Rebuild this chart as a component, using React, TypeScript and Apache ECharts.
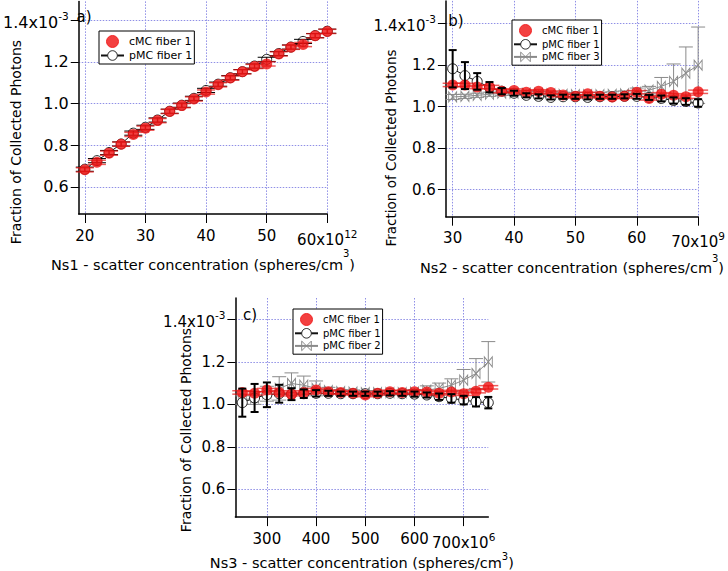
import React, { useEffect, useRef } from 'react';
import * as echarts from 'echarts';

const FONT = '"DejaVu Sans", Verdana, sans-serif';
const RED = '#f01010';
const RED_ERR = 'rgba(230,20,20,0.7)';
const GRAY = '#8a8a8a';
const BLACK = '#000';

// ---- Panel a ----
const aX = [20, 22, 24, 26, 28, 30, 32, 34, 36, 38, 40, 42, 44, 46, 48, 50, 52, 54, 56, 58, 60];
const aCmc = [0.682, 0.718, 0.762, 0.805, 0.852, 0.882, 0.918, 0.962, 0.99, 1.022, 1.055, 1.09, 1.122, 1.152, 1.178, 1.19, 1.238, 1.27, 1.283, 1.325, 1.346];
const aCmcErr = [0.01, 0.01, 0.01, 0.01, 0.01, 0.01, 0.01, 0.01, 0.01, 0.01, 0.01, 0.01, 0.01, 0.01, 0.01, 0.01, 0.01, 0.01, 0.01, 0.01, 0.01];
const aPmc1 = [0.685, 0.726, 0.765, 0.806, 0.858, 0.886, 0.921, 0.963, 0.992, 1.025, 1.063, 1.093, 1.124, 1.153, 1.18, 1.212, 1.24, 1.271, 1.298, 1.326, 1.347];
const aPmc1Err = [0.01, 0.01, 0.01, 0.01, 0.01, 0.01, 0.01, 0.01, 0.01, 0.01, 0.01, 0.01, 0.01, 0.01, 0.01, 0.01, 0.01, 0.01, 0.01, 0.01, 0.01];

// ---- Panel b ----
const bX = [30, 32, 34, 36, 38, 40, 42, 44, 46, 48, 50, 52, 54, 56, 58, 60, 62, 64, 66, 68, 70];
const bCmc = [1.105, 1.105, 1.095, 1.095, 1.075, 1.078, 1.07, 1.074, 1.068, 1.056, 1.05, 1.062, 1.05, 1.047, 1.05, 1.07, 1.04, 1.06, 1.055, 1.048, 1.072];
const bCmcErr = [0.008, 0.008, 0.008, 0.008, 0.008, 0.008, 0.008, 0.008, 0.008, 0.008, 0.008, 0.008, 0.008, 0.008, 0.008, 0.008, 0.008, 0.008, 0.008, 0.008, 0.008];
const bPmc1 = [1.183, 1.15, 1.122, 1.094, 1.075, 1.065, 1.055, 1.05, 1.045, 1.048, 1.048, 1.045, 1.048, 1.048, 1.05, 1.05, 1.045, 1.04, 1.03, 1.025, 1.018];
const bPmc1Err = [0.09, 0.065, 0.04, 0.025, 0.015, 0.012, 0.01, 0.01, 0.01, 0.01, 0.01, 0.01, 0.01, 0.01, 0.01, 0.012, 0.012, 0.014, 0.015, 0.016, 0.018];
const bPmc3 = [1.047, 1.05, 1.055, 1.06, 1.065, 1.066, 1.065, 1.064, 1.062, 1.06, 1.058, 1.058, 1.058, 1.06, 1.062, 1.07, 1.08, 1.098, 1.122, 1.162, 1.2];
const bPmc3Err = [0.012, 0.01, 0.01, 0.01, 0.01, 0.01, 0.01, 0.01, 0.01, 0.01, 0.01, 0.01, 0.01, 0.012, 0.014, 0.02, 0.018, 0.043, 0.084, 0.126, 0.184];

// ---- Panel c ----
const cX = [250, 275, 300, 325, 350, 375, 400, 425, 450, 475, 500, 525, 550, 575, 600, 625, 650, 675, 700, 725, 750];
const cCmc = [1.056, 1.052, 1.067, 1.056, 1.048, 1.056, 1.067, 1.059, 1.056, 1.052, 1.044, 1.052, 1.059, 1.056, 1.059, 1.058, 1.052, 1.058, 1.05, 1.062, 1.08];
const cCmcErr = [0.008, 0.008, 0.008, 0.008, 0.008, 0.008, 0.008, 0.008, 0.008, 0.008, 0.008, 0.008, 0.008, 0.008, 0.008, 0.008, 0.008, 0.008, 0.008, 0.008, 0.008];
const cPmc1 = [1.008, 1.03, 1.045, 1.05, 1.048, 1.05, 1.052, 1.052, 1.05, 1.05, 1.05, 1.05, 1.052, 1.05, 1.048, 1.044, 1.036, 1.028, 1.02, 1.012, 1.008];
const cPmc1Err = [0.066, 0.066, 0.058, 0.042, 0.028, 0.02, 0.015, 0.012, 0.01, 0.01, 0.01, 0.01, 0.01, 0.01, 0.012, 0.012, 0.015, 0.02, 0.02, 0.022, 0.027];
const cPmc2 = [1.02, 1.03, 1.05, 1.075, 1.098, 1.09, 1.075, 1.065, 1.06, 1.058, 1.055, 1.055, 1.055, 1.055, 1.058, 1.067, 1.075, 1.09, 1.114, 1.145, 1.2];
const cPmc2Err = [0.02, 0.03, 0.035, 0.055, 0.05, 0.043, 0.035, 0.015, 0.01, 0.01, 0.01, 0.01, 0.01, 0.01, 0.012, 0.02, 0.025, 0.03, 0.05, 0.07, 0.095];

// ---- Ticks & texts ----
const yTicks = [0.6, 0.8, 1.0, 1.2, 1.4];
const yExp = '-3';
const aXTicks = [20, 30, 40, 50, 60];
const aXExp = '12';
const bXTicks = [30, 40, 50, 60, 70];
const bXExp = '9';
const cXTicks = [300, 400, 500, 600, 700];
const cXExp = '6';
const yTitle = 'Fraction of Collected Photons';
const aXTitle = 'Ns1 - scatter concentration (spheres/cm';
const bXTitle = 'Ns2 - scatter concentration (spheres/cm';
const cXTitle = 'Ns3 - scatter concentration (spheres/cm';
const panelLabels = ['a)', 'b)', 'c)'];
const NAME_CMC = 'cMC fiber 1';
const NAME_PMC1 = 'pMC fiber 1';
const NAME_PMC3 = 'pMC fiber 3';
const NAME_PMC2 = 'pMC fiber 2';

const BOWTIE = 'path://M0,0L4,5L0,10ZM8,0L4,5L8,10Z';
const X_TICK_FONT = 15;

const GRID_LINE = { show: true, lineStyle: { color: '#8f8fe6', type: [1.5, 1.5], width: 1 } };

function xAxis(idx: number, min: number, max: number, ticks: number[], exp: string, title: string, nameGap: number, supPad: number) {
  const last = ticks[ticks.length - 1];
  return {
    type: 'value', gridIndex: idx, min, max,
    axisLine: { show: true, onZero: false, lineStyle: { color: BLACK, width: 1.5 } },
    axisTick: { show: true, length: 9, customValues: ticks, lineStyle: { color: BLACK, width: 1 } },
    axisLabel: {
      show: true, customValues: ticks, margin: 14, fontSize: X_TICK_FONT, fontFamily: FONT, color: BLACK,
      formatter: (v: number) => (Math.abs(v - last) < 1e-9 ? `{m|${last}x10}{s|${exp}}` : String(v)),
      rich: {
        m: { fontSize: X_TICK_FONT, fontFamily: FONT, color: BLACK, verticalAlign: 'bottom' },
        s: { fontSize: 10.5, fontFamily: FONT, color: BLACK, verticalAlign: 'bottom', padding: [0, 0, 8, 0] },
      },
    },
    splitLine: GRID_LINE,
    name: `{m|${title}}{s|3}{m|)}`,
    nameLocation: 'middle', nameGap,
    nameTextStyle: {
      rich: {
        m: { fontSize: 14.5, fontFamily: FONT, color: BLACK, verticalAlign: 'bottom' },
        s: { fontSize: 10, fontFamily: FONT, color: BLACK, verticalAlign: 'bottom', padding: [0, 0, supPad, 0] },
      },
    },
  };
}

function yAxis(idx: number, min: number, max: number, fs: number) {
  return {
    type: 'value', gridIndex: idx, min, max,
    axisLine: { show: true, onZero: false, lineStyle: { color: BLACK, width: 1.5 } },
    axisTick: { show: true, length: 8, customValues: yTicks, lineStyle: { color: BLACK, width: 1 } },
    axisLabel: {
      show: true, customValues: yTicks, margin: 10, fontSize: fs, fontFamily: FONT, color: BLACK,
      formatter: (v: number) => (Math.abs(v - 1.4) < 1e-9 ? `{m|1.4x10}{s|${yExp}}` : v.toFixed(1)),
      rich: {
        m: { fontSize: fs, fontFamily: FONT, color: BLACK, verticalAlign: 'bottom' },
        s: { fontSize: 10.5, fontFamily: FONT, color: BLACK, verticalAlign: 'bottom', padding: [0, 0, 9, 0] },
      },
    },
    splitLine: GRID_LINE,
  };
}

function errorBars(idx: number, xs: number[], ys: number[], es: number[], color: string, cap: number, width: number, z: number) {
  return {
    type: 'custom', xAxisIndex: idx, yAxisIndex: idx, z, silent: true, clip: false,
    encode: { x: 0, y: 1 },
    data: xs.map((x, i) => [x, ys[i], es[i]]),
    renderItem: (_p: any, api: any) => {
      const x = api.value(0);
      const y = api.value(1);
      const e = api.value(2);
      const p1 = api.coord([x, y + e]);
      const p2 = api.coord([x, y - e]);
      const st = { stroke: color, lineWidth: width };
      return {
        type: 'group',
        children: [
          { type: 'line', shape: { x1: p1[0], y1: p1[1], x2: p2[0], y2: p2[1] }, style: st },
          { type: 'line', shape: { x1: p1[0] - cap, y1: p1[1], x2: p1[0] + cap, y2: p1[1] }, style: st },
          { type: 'line', shape: { x1: p2[0] - cap, y1: p2[1], x2: p2[0] + cap, y2: p2[1] }, style: st },
        ],
      };
    },
  };
}

function cmcSeries(idx: number, xs: number[], ys: number[]) {
  return {
    type: 'scatter', name: NAME_CMC, xAxisIndex: idx, yAxisIndex: idx, z: 4, clip: false,
    symbol: 'circle', symbolSize: 11, itemStyle: { color: RED, borderColor: RED, borderWidth: 0 },
    data: xs.map((x, i) => [x, ys[i]]),
  };
}

function pmc1Series(idx: number, xs: number[], ys: number[]) {
  return {
    type: 'line', name: NAME_PMC1, xAxisIndex: idx, yAxisIndex: idx, z: 3, clip: false,
    symbol: 'circle', symbolSize: 10, showAllSymbol: true,
    lineStyle: { color: '#111', width: 1 },
    itemStyle: { color: '#fff', borderColor: '#222', borderWidth: 1 },
    data: xs.map((x, i) => [x, ys[i]]),
  };
}

function graySeries(idx: number, name: string, xs: number[], ys: number[]) {
  return {
    type: 'line', name, xAxisIndex: idx, yAxisIndex: idx, z: 2, clip: false,
    symbol: BOWTIE, symbolSize: [8, 10], showAllSymbol: true,
    lineStyle: { color: GRAY, width: 1 },
    itemStyle: { color: 'rgba(255,255,255,0)', borderColor: GRAY, borderWidth: 1 },
    data: xs.map((x, i) => [x, ys[i]]),
  };
}

function legend(left: number, top: number, names: string[], fontSize: number) {
  return {
    data: names, left, top, orient: 'vertical', itemWidth: 23, itemHeight: 12, itemGap: 2,
    padding: [4, 2, 3, 1], borderColor: BLACK, borderWidth: 1, backgroundColor: '#fff',
    itemStyle: { borderWidth: 1 },
    textStyle: { fontSize, fontFamily: FONT, color: BLACK }, selectedMode: false,
  };
}

function yTitleText(x: number, y: number, fontSize: number) {
  return {
    type: 'text', x, y, rotation: Math.PI / 2,
    style: { text: yTitle, fontSize, fontFamily: FONT, fill: BLACK, align: 'center', verticalAlign: 'middle' },
  };
}

function panelText(x: number, y: number, text: string) {
  return {
    type: 'text', x, y, z: 100,
    style: { text, fontSize: 15, fontFamily: FONT, fill: BLACK, align: 'center', verticalAlign: 'middle' },
  };
}

export default function App() {
  const ref = useRef<HTMLDivElement>(null);
  useEffect(() => {
    if (!ref.current) return;
    const chart = echarts.init(ref.current, undefined, { renderer: 'svg' });
    chart.setOption({
      animation: false,
      backgroundColor: '#fff',
      grid: [
        { left: 71, top: 1.4, width: 256.3, height: 212.6 },
        { left: 445.9, top: 0.9, width: 255.4, height: 215.8 },
        { left: 235.4, top: 298, width: 252.9, height: 219.4 },
      ],
      xAxis: [
        xAxis(0, 19, 60, aXTicks, aXExp, aXTitle, 34, 14),
        xAxis(1, 28.9, 70, bXTicks, bXExp, bXTitle, 37, 12),
        xAxis(2, 236, 750, cXTicks, cXExp, cXTitle, 28, 9),
      ],
      yAxis: [yAxis(0, 0.47, 1.49, 16), yAxis(1, 0.47, 1.51, 15), yAxis(2, 0.47, 1.5, 15)],
      legend: [
        legend(99, 31, [NAME_CMC, NAME_PMC1], 11),
        legend(512, 20, [NAME_CMC, NAME_PMC1, NAME_PMC3], 10),
        legend(293, 309, [NAME_CMC, NAME_PMC1, NAME_PMC2], 10),
      ],
      graphic: [
        yTitleText(16, 142, 14),
        yTitleText(391, 148, 13.5),
        yTitleText(186, 430, 14),
        panelText(84, 16.5, panelLabels[0]),
        panelText(456, 21, panelLabels[1]),
        panelText(250, 315, panelLabels[2]),
      ],
      series: [
        // a
        pmc1Series(0, aX, aPmc1),
        errorBars(0, aX, aPmc1, aPmc1Err, BLACK, 9, 1, 3.5),
        cmcSeries(0, aX, aCmc),
        errorBars(0, aX, aCmc, aCmcErr, RED_ERR, 9, 1.5, 5),
        // b
        graySeries(1, NAME_PMC3, bX, bPmc3),
        errorBars(1, bX, bPmc3, bPmc3Err, GRAY, 7, 1, 3),
        pmc1Series(1, bX, bPmc1),
        cmcSeries(1, bX, bCmc),
        errorBars(1, bX, bCmc, bCmcErr, RED_ERR, 10, 1.5, 5),
        errorBars(1, bX, bPmc1, bPmc1Err, BLACK, 4, 2, 6),
        // c
        graySeries(2, NAME_PMC2, cX, cPmc2),
        errorBars(2, cX, cPmc2, cPmc2Err, GRAY, 7, 1, 3),
        pmc1Series(2, cX, cPmc1),
        cmcSeries(2, cX, cCmc),
        errorBars(2, cX, cCmc, cCmcErr, RED_ERR, 10, 1.5, 5),
        errorBars(2, cX, cPmc1, cPmc1Err, BLACK, 4, 2, 6),
      ],
    });
    return () => chart.dispose();
  }, []);
  return <div ref={ref} style={{ position: 'fixed', left: 0, top: 0, width: 728, height: 571 }} />;
}
